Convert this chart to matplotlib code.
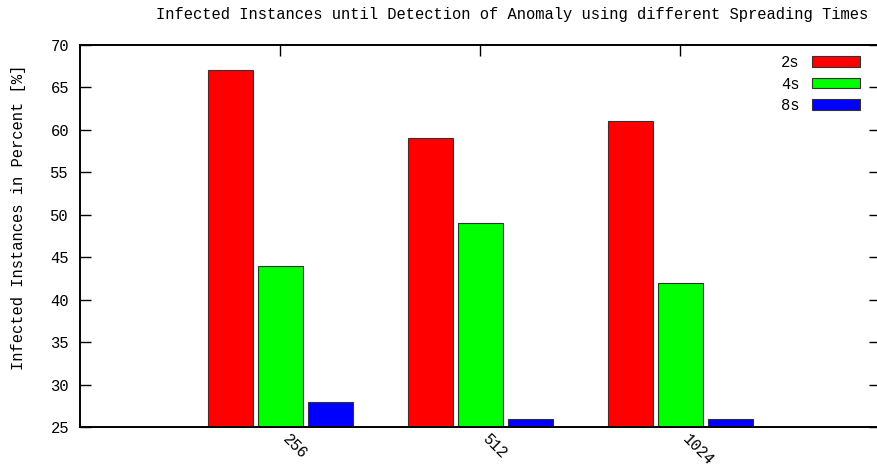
import matplotlib
matplotlib.use("Agg")
import matplotlib.pyplot as plt
import matplotlib.transforms as mtransforms
import numpy as np

categories = ["256", "512", "1024"]
series_labels = ["2s", "4s", "8s"]
vals_2s = [67, 59, 61]
vals_4s = [44, 49, 42]
vals_8s = [28, 26, 26]
yticks = [25, 30, 35, 40, 45, 50, 55, 60, 65, 70]

title = "Infected Instances until Detection of Anomaly using different Spreading Times"
ylabel = "Infected Instances in Percent [%]"

plt.rcParams['font.family'] = ['Liberation Mono', 'DejaVu Sans Mono']
FS = 11.2

W, H = 877, 471
fig = plt.figure(figsize=(W / 100, H / 100), dpi=100)
ax = fig.add_axes([80 / W, (H - 427) / H, 800 / W, (427 - 44.7) / H])

x = np.arange(len(categories))
bw = 0.225
colors = ["#ff0000", "#00ff00", "#0000ff"]
for off, vals, c, lab in zip([-0.25, 0, 0.25], [vals_2s, vals_4s, vals_8s], colors, series_labels):
    ax.bar(x + off, vals, width=bw, color=c, edgecolor="#333333", linewidth=0.8, label=lab, zorder=2)

ax.set_xlim(-1, 3)
ax.set_ylim(25, 70)
ax.set_yticks(yticks)
ax.set_xticks(x)
ax.set_xticklabels(categories, rotation=-45, ha="left", va="top", fontsize=FS)
for lab in ax.get_xticklabels():
    lab.set_transform(lab.get_transform() + mtransforms.ScaledTranslation(-8 / 100, -6 / 100, fig.dpi_scale_trans))
ax.tick_params(axis="both", direction="in", length=8, width=1, top=True, right=True, labelsize=FS)
ax.tick_params(axis="y", pad=8)
ax.set_axisbelow(True)
for s in ax.spines.values():
    s.set_linewidth(1.4)
    s.set_color("black")

fig.text(512 / W, 1 - 14 / H, title, ha="center", va="center", fontsize=FS)
fig.text(19 / W, 1 - 217 / H, ylabel, ha="center", va="center", rotation=90, fontsize=FS)

ax.legend(loc="upper right", bbox_to_anchor=(860 / W, 1 - 55 / H), bbox_transform=fig.transFigure,
          frameon=False, markerfirst=False, fontsize=FS, handlelength=3.1, handleheight=0.65,
          labelspacing=0.42, borderpad=0, borderaxespad=0, handletextpad=0.8)

fig.savefig("out.png", dpi=100)
